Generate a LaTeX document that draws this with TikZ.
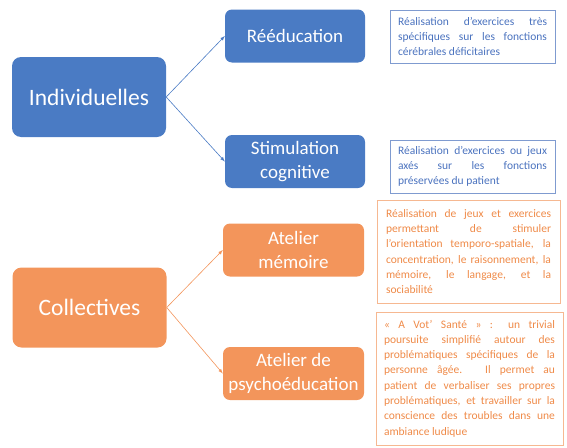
\documentclass[tikz,border=0pt]{standalone}
\usepackage{fontspec}
\setmainfont{Carlito}
\usepackage{tikz}

\definecolor{bleu}{HTML}{4A7BC4}
\definecolor{bleutexte}{HTML}{4A72BE}
\definecolor{bleutrait}{HTML}{7F9BD0}
\definecolor{orangec}{HTML}{F3955B}
\definecolor{orangetexte}{HTML}{EF8A48}
\definecolor{orangetrait}{HTML}{F6B891}

\hbadness=10000

\begin{document}
\begin{tikzpicture}[x=1pt, y=-1pt, >=latex,
        cat/.style={rectangle, rounded corners=9pt, text=white,
            font=\fontsize{23.5}{28}\selectfont,
            minimum width=154pt, minimum height=80pt},
        sub/.style={rectangle, rounded corners=7pt, text=white, align=center,
            font=\fontsize{19}{24}\selectfont, inner sep=2pt,
            minimum width=140pt, minimum height=53pt},
        desc/.style={rectangle, line width=0.6pt, align=justify,
            font=\fontsize{11.5}{15.3}\selectfont}]
        \useasboundingbox (0,0) rectangle (567,447);

        \node [cat, fill=bleu] (ind) at (89,97) {Individuelles};
        \node [sub, fill=bleu] (reed) at (295,36) {Rééducation};
        \node [sub, fill=bleu] (stim) at (295,161.5) {Stimulation\\cognitive};

        \node [cat, fill=orangec] (col) at (89.5,307.5) {Collectives};
        \node [sub, fill=orangec, minimum width=141pt] (mem) at (293.5,250)
            {Atelier\\mémoire};
        \node [sub, fill=orangec, minimum width=141pt] (psy) at (293.5,373.5)
            {Atelier de\\psychoéducation};

        \node [desc, draw=bleutrait, text=bleutexte, text width=149pt,
            inner xsep=8pt, minimum height=53pt] (d1) at (472.5,36.5)
            {Réalisation d’exercices très\linebreak
             spécifiques sur les fonctions\linebreak
             cérébrales déficitaires};
        \node [desc, draw=bleutrait, text=bleutexte, text width=149pt,
            inner xsep=8pt, minimum height=53pt] (d2) at (472.5,166.5)
            {Réalisation d’exercices ou jeux\linebreak
             axés sur les fonctions\linebreak
             préservées du patient};
        \node [desc, draw=orangetrait, text=orangetexte, text width=165pt,
            inner xsep=9pt, minimum height=103pt] (d3) at (468.5,251.5)
            {Réalisation de jeux et exercices\linebreak
             permettant de stimuler\linebreak
             l’orientation temporo-spatiale, la\linebreak
             concentration, le raisonnement, la\linebreak
             mémoire, le langage, et la\linebreak
             sociabilité};
        \node [desc, draw=orangetrait, text=orangetexte, text width=171pt,
            inner xsep=8pt, minimum height=133pt] (d4) at (469.5,378.5)
            {«~A Vot’ Santé~»~: un trivial\linebreak
             poursuite simplifié autour des\linebreak
             problématiques spécifiques de la\linebreak
             personne âgée. Il permet au\linebreak
             patient de verbaliser ses propres\linebreak
             problématiques, et travailler sur la\linebreak
             conscience des troubles dans une\linebreak
             ambiance ludique};

        \draw [->, bleu, line width=0.6pt] (ind.east) -- (reed.west);
        \draw [->, bleu, line width=0.6pt] (ind.east) -- (stim.west);
        \draw [->, orangec, line width=0.6pt] (col.east) -- (mem.west);
        \draw [->, orangec, line width=0.6pt] (col.east) -- (psy.west);
    \end{tikzpicture}
\end{document}
